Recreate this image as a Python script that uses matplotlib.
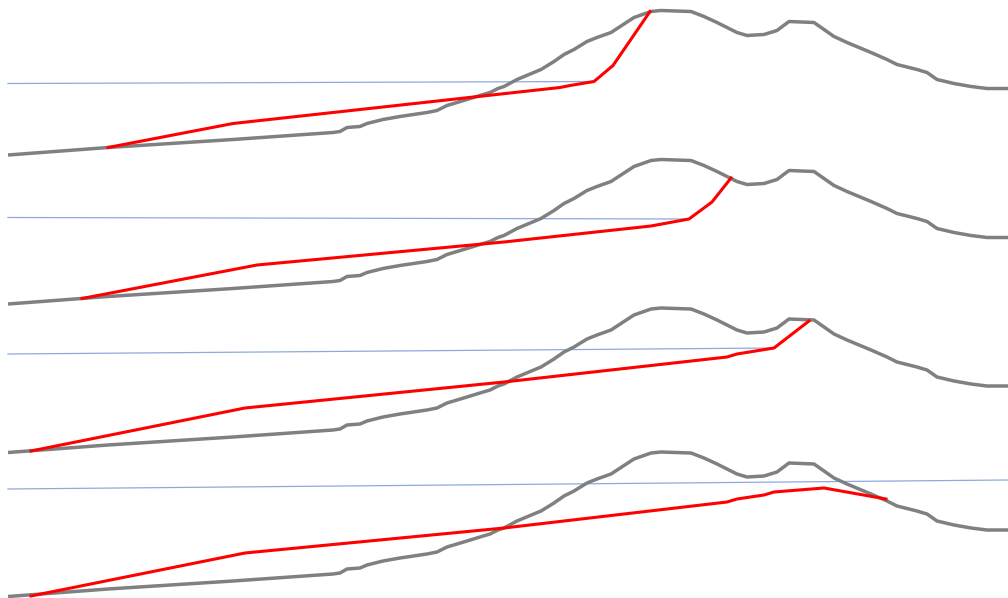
import numpy as np
import matplotlib
matplotlib.use("Agg")
import matplotlib.pyplot as plt

# terrain profile (same in every panel)
dist = [0, 100, 225, 325, 332, 339, 352, 359, 375, 392, 419, 429, 439, 459, 472, 482, 490, 496,
        509, 533, 546, 556, 566, 579, 589, 603, 626, 643, 653, 683, 696, 709, 729, 739, 756, 769,
        781, 806, 816, 826, 839, 863, 879, 889, 909, 919, 929, 946, 963, 979, 1000]
elev = [0.5, 8, 16, 23, 24, 28, 29, 32, 36, 39, 43, 45, 50, 56, 60, 63, 67, 69,
        76, 86, 94, 101, 106, 114, 118, 123, 138, 144, 145, 144, 139, 133, 123, 120, 121, 125,
        134, 133, 126, 119, 113, 103, 96, 91, 86, 83, 76, 72, 69, 67, 67]

# red lines, one per panel
red1_x = [100, 225, 552, 562, 586, 605, 642]
red1_y = [8, 32, 68, 70, 74, 90, 144]
red2_x = [74, 249, 496, 643, 681, 704, 723]
red2_y = [6, 39.5, 62.5, 78.5, 85.5, 102.5, 126.5]
red3_x = [23, 237, 496, 719, 729, 766, 801]
red3_y = [2, 45, 71, 96, 99, 105, 132]
red4_x = [23, 237, 496, 719, 729, 756, 766, 816, 878]
red4_y = [1, 44, 69, 95, 98, 102, 105, 109, 98]

# thin blue lines
blue1_x = [0, 586]
blue1_y = [72, 74]
blue2_x = [0, 681]
blue2_y = [87, 85.5]
blue3_x = [0, 766]
blue3_y = [99, 105]
blue4_x = [0, 1000]
blue4_y = [108, 117]

reds = [(red1_x, red1_y), (red2_x, red2_y), (red3_x, red3_y), (red4_x, red4_y)]
blues = [(blue1_x, blue1_y), (blue2_x, blue2_y), (blue3_x, blue3_y), (blue4_x, blue4_y)]

W, H = 1008, 598
fig = plt.figure(figsize=(W / 100, H / 100), dpi=100)

# pixel row of the zero level in each panel
bases = [155.5, 304.5, 453, 597]
span = 145

for i in range(4):
    ax = fig.add_axes([8 / W, (H - bases[i]) / H, 1000 / W, span / H])
    ax.plot(blues[i][0], blues[i][1], color='#8eaadb', lw=0.9, clip_on=False)
    ax.plot(dist, elev, color='#808080', lw=2.5, clip_on=False, solid_capstyle='butt')
    ax.plot(reds[i][0], reds[i][1], color='#ff0000', lw=2.2, clip_on=False)
    ax.set_xlim(0, 1000)
    ax.set_ylim(0, span)
    ax.axis('off')

fig.savefig('out.png', dpi=100)
